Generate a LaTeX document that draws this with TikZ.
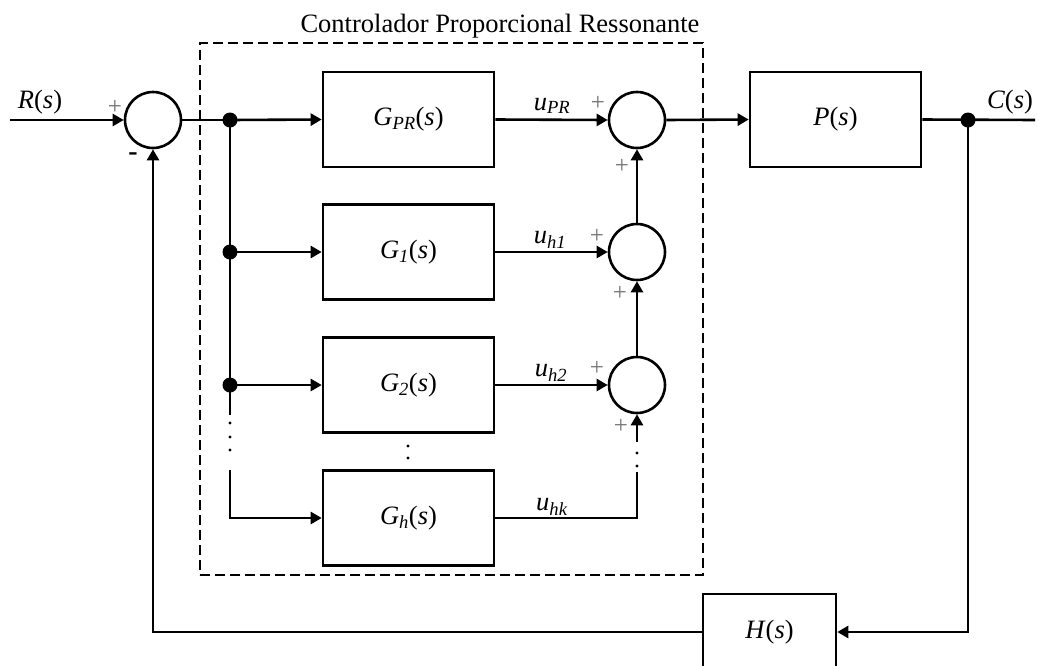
\documentclass[tikz,border=0pt]{standalone}
\usepackage{fontspec}
\setmainfont{Liberation Serif}
\usetikzlibrary{arrows.meta}

\begin{document}
\begin{tikzpicture}[x=1pt,y=-1pt,line width=2.6pt,
  blk/.style={draw,minimum width=171pt,minimum height=95pt,inner sep=0pt,font=\fontsize{26.5}{30}\selectfont},
  sumc/.style={draw,circle,minimum size=56pt,inner sep=0pt},
  junc/.style={circle,fill,minimum size=15pt,inner sep=0pt},
  sdot/.style={circle,fill,minimum size=3.2pt,inner sep=0pt},
  lbl/.style={font=\fontsize{26.5}{30}\selectfont,inner sep=0pt},
  sgn/.style={font=\fontsize{25}{28}\selectfont,text=black!55,inner sep=0pt},
  arr/.style={-{Triangle[length=11pt,width=12pt]}},
  frame/.style={draw,dash pattern=on 10pt off 5pt,line width=2.3pt,inner sep=0pt}]
\useasboundingbox (0,0) rectangle (1039,665);

% controller frame and title
\node[frame,minimum width=503pt,minimum height=532pt] (ctrl) at (451.5,309) {};
\node[lbl,anchor=base] (title) at (500,32) {Controlador Proporcional Ressonante};

% summing junctions
\node[sumc] (s0) at (153,120) {};
\node[sumc] (spr) at (637,120) {};
\node[sumc] (s1) at (637,252) {};
\node[sumc] (s2) at (637,385) {};

% blocks
\node[blk] (gpr) at (408.5,119.5) {\textit{G}\textsubscript{\textit{PR}}(\textit{s})};
\node[blk] (g1) at (408.5,252) {\textit{G}\textsubscript{\textit{1}}(\textit{s})};
\node[blk] (g2) at (408.5,385) {\textit{G}\textsubscript{\textit{2}}(\textit{s})};
\node[blk] (gh) at (408.5,518) {\textit{G}\textsubscript{\textit{h}}(\textit{s})};
\node[blk] (p) at (835.5,119.5) {\textit{P}(\textit{s})};
\node[blk,minimum width=133pt,minimum height=76pt] (h) at (769.5,632) {\textit{H}(\textit{s})};

% branch points
\node[junc] (j0) at (230,120) {};
\node[junc] (j1) at (230,252) {};
\node[junc] (j2) at (230,385) {};
\node[junc] (jc) at (968,120) {};

% free line ends
\coordinate (rin) at (10,120);
\coordinate (cout) at (1035,120);
\coordinate (vl) at (230,415);
\coordinate (vl2) at (230,470);
\coordinate (vr) at (637,472);
\coordinate (vr2) at (637,442);

% forward path
\draw[arr] (rin) -- (s0.west);
\draw (s0.east) -- (j0.center);
\draw[arr] (j0.center) -- (gpr.west);
\draw[arr] (j1.center) -- (g1.west);
\draw[arr] (j2.center) -- (g2.west);
\draw (j0.center) -- (vl);
\draw[arr] (vl2) |- (gh.west);
\draw[arr] (gpr.east) -- (spr.west);
\draw[arr] (g1.east) -- (s1.west);
\draw[arr] (g2.east) -- (s2.west);
\draw (gh.east) -| (vr);
\draw[arr] (vr2) -- (s2.south);
\draw[arr] (s2.north) -- (s1.south);
\draw[arr] (s1.north) -- (spr.south);
\draw[arr] (spr.east) -- (p.west);
\draw (p.east) -- (cout);

% feedback path
\draw[arr] (jc.center) |- (h.east);
\draw[arr] (h.west) -| (s0.south);

% ellipsis dots
\foreach \yy in {423,437,450} \node[sdot] at (230,\yy) {};
\foreach \yy in {446,458} \node[sdot] at (408,\yy) {};
\foreach \yy in {453,466} \node[sdot] at (637,\yy) {};

% signal labels
\node[lbl] (lr) at (40,102) {\textit{R}(\textit{s})};
\node[lbl] (lc) at (1010,102) {\textit{C}(\textit{s})};
\node[lbl] (lupr) at (552,106) {\textit{u}\textsubscript{\textit{PR}}};
\node[lbl] (luh1) at (550,240) {\textit{u}\textsubscript{\textit{h1}}};
\node[lbl] (luh2) at (551,373) {\textit{u}\textsubscript{\textit{h2}}};
\node[lbl] (luhk) at (552,507) {\textit{u}\textsubscript{\textit{hk}}};

% signs
\node[sgn] at (115,107) {+};
\node[lbl,font=\fontsize{28}{30}\selectfont\bfseries] at (133,157) {-};
\node[sgn] at (598,103) {+};
\node[sgn] at (622,166) {+};
\node[sgn] at (597,236) {+};
\node[sgn] at (620,293) {+};
\node[sgn] at (597,368) {+};
\node[sgn] at (621,426) {+};
\end{tikzpicture}
\end{document}
